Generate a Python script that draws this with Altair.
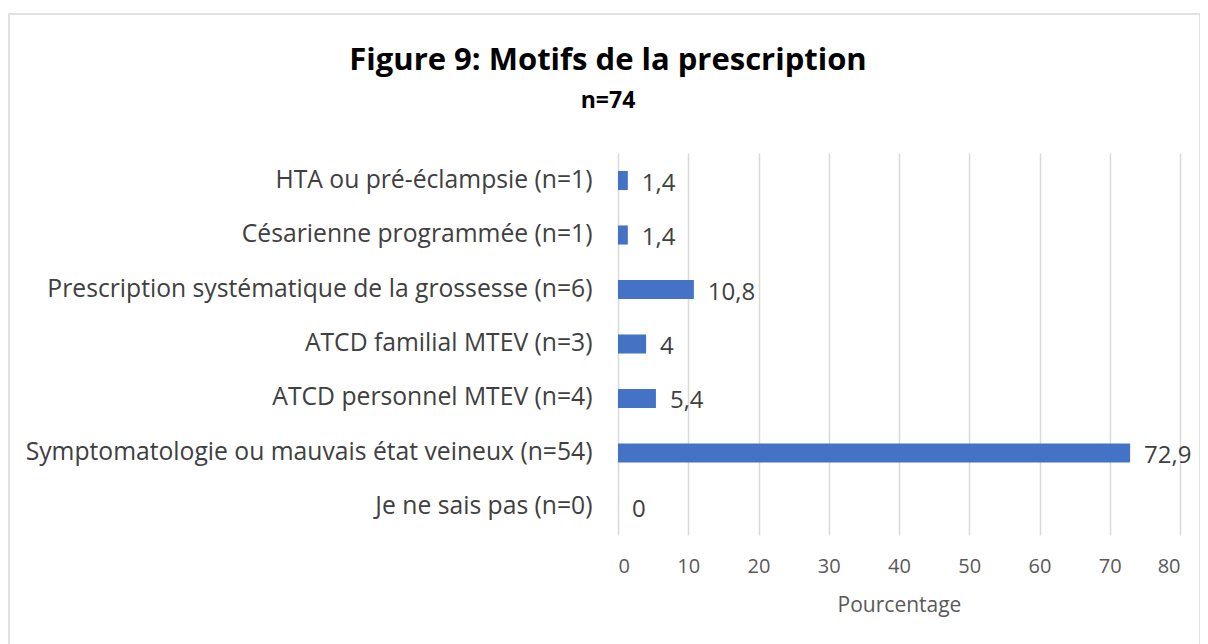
import altair as alt
import pandas as pd

categories = [
    "HTA ou pré-éclampsie (n=1)",
    "Césarienne programmée (n=1)",
    "Prescription systématique de la grossesse (n=6)",
    "ATCD familial MTEV (n=3)",
    "ATCD personnel MTEV (n=4)",
    "Symptomatologie ou mauvais état veineux (n=54)",
    "Je ne sais pas (n=0)",
]
values = [1.4, 1.4, 10.8, 4, 5.4, 72.9, 0]
x_ticks = [0, 10, 20, 30, 40, 50, 60, 70, 80]

df = pd.DataFrame({"cat": categories, "val": values})

FONT = "Open Sans"

y_enc = alt.Y("cat:N", sort=categories, title=None,
              scale=alt.Scale(paddingInner=0.65, paddingOuter=0.33),
              axis=alt.Axis(domain=False, ticks=False, labelFontSize=24.7,
                            labelColor="#404040", labelPadding=26,
                            labelLimit=700, labelFont=FONT))
x_enc = alt.X("val:Q", title="Pourcentage",
              scale=alt.Scale(domain=[0, 80], nice=False),
              axis=alt.Axis(values=x_ticks, domain=False, ticks=False,
                            grid=True, gridColor="#d9d9d9", gridWidth=1.5,
                            labelFontSize=20, labelColor="#595959",
                            labelPadding=21, titleFontSize=21,
                            titleColor="#595959", titleFontWeight="normal",
                            titlePadding=18, labelFont=FONT, titleFont=FONT))

base = alt.Chart(df)

bars = base.mark_bar(color="#4472C4").encode(x=x_enc, y=y_enc)

labels = base.transform_calculate(
    lab="replace(format(datum.val, ''), '.', ',')"
).mark_text(align="left", baseline="middle", dx=14, dy=3, fontSize=24,
            color="#404040", font=FONT).encode(
    x="val:Q", y=alt.Y("cat:N", sort=categories), text="lab:N")

frame = alt.Chart(pd.DataFrame({"a": [0]})).mark_rect(
    fill=None, stroke="#d9d9d9", strokeWidth=1.5).encode(
    x=alt.value(-609), x2=alt.value(582), y=alt.value(-139), y2=alt.value(520))

chart = alt.layer(frame, bars, labels).properties(
    width=562, height=382,
    title=alt.TitleParams(
        text="Figure 9: Motifs de la prescription",
        subtitle="n=74",
        fontSize=31, fontWeight="bold", color="#000000", font=FONT,
        subtitleFontSize=23, subtitleFontWeight="bold",
        subtitleColor="#000000", subtitleFont=FONT,
        anchor="middle", dx=-291, offset=0, dy=101, subtitlePadding=13,
    ),
    padding={"left": 610, "top": 145, "right": 20, "bottom": 110},
    autosize=alt.AutoSizeParams(type="none"),
).configure_view(stroke=None)

chart.save("out.html", embed_options={"renderer": "svg", "actions": False})
